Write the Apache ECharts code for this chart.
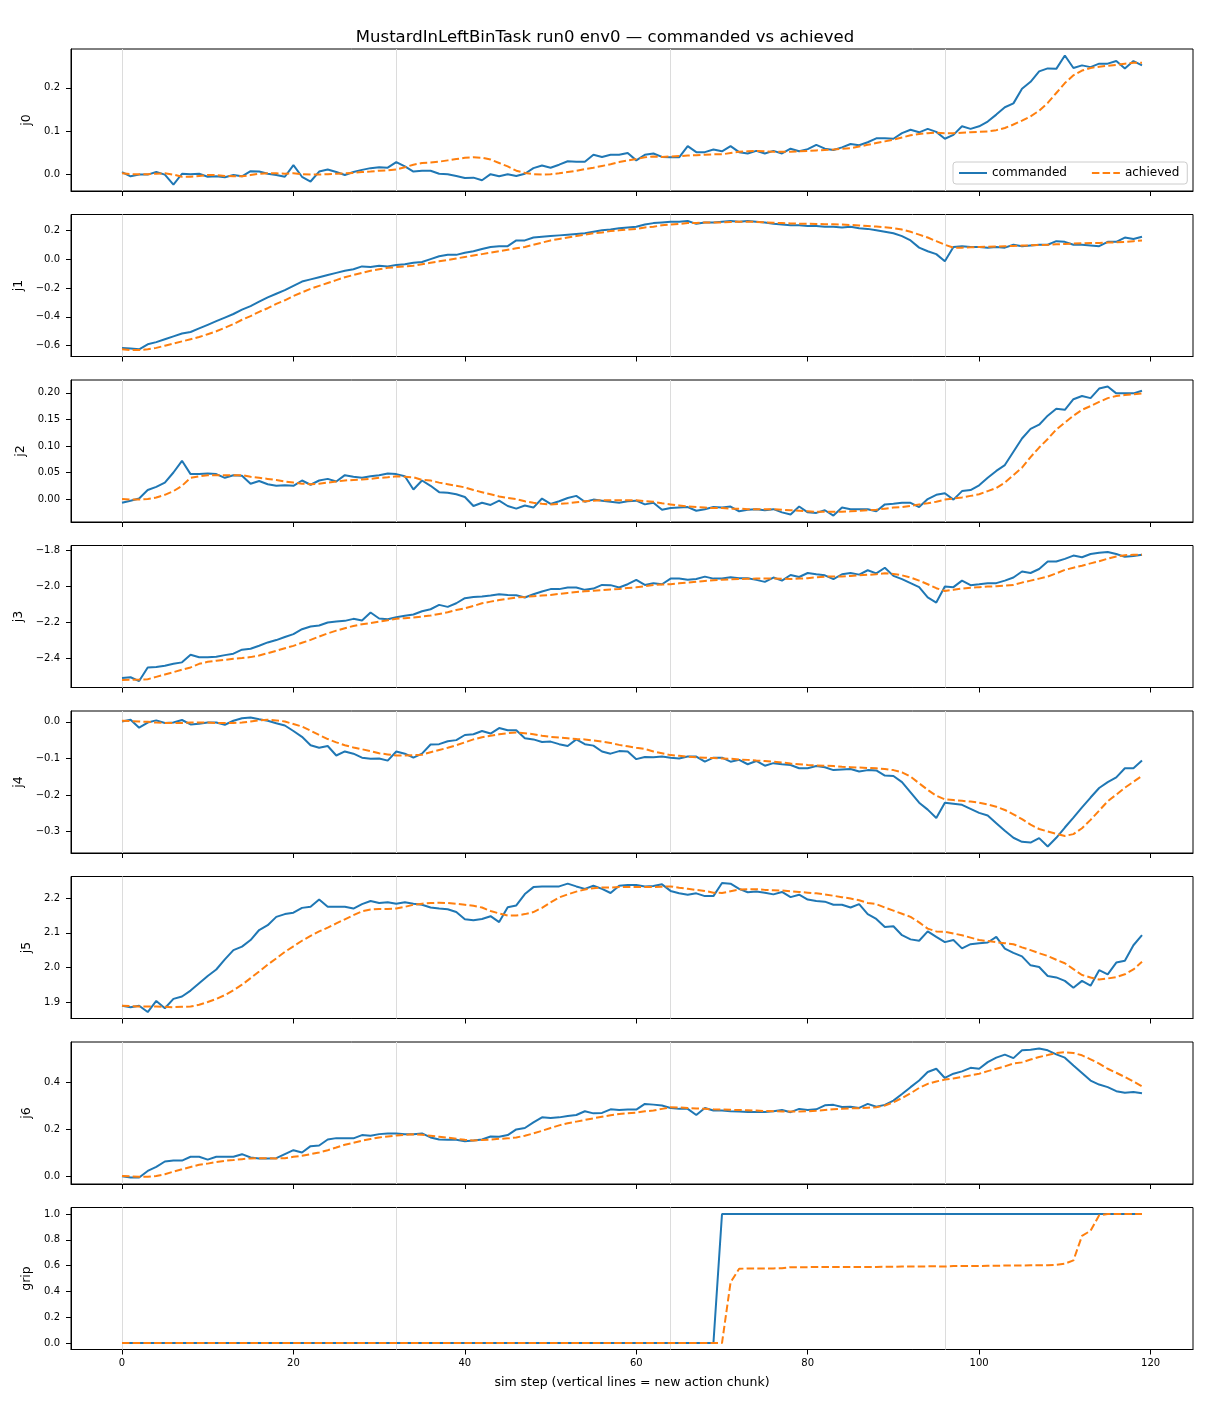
<!DOCTYPE html>
<html>
<head>
<meta charset="utf-8">
<script src="https://cdn.jsdelivr.net/npm/echarts@6/dist/echarts.min.js"></script>
<style>html,body{margin:0;padding:0;background:#fff}#c{width:1210px;height:1408px}</style>
</head>
<body>
<div id="c"></div>
<script>
const steps = [0,1,2,3,4,5,6,7,8,9,10,11,12,13,14,15,16,17,18,19,20,21,22,23,24,25,26,27,28,29,30,31,32,33,34,35,36,37,38,39,40,41,42,43,44,45,46,47,48,49,50,51,52,53,54,55,56,57,58,59,60,61,62,63,64,65,66,67,68,69,70,71,72,73,74,75,76,77,78,79,80,81,82,83,84,85,86,87,88,89,90,91,92,93,94,95,96,97,98,99,100,101,102,103,104,105,106,107,108,109,110,111,112,113,114,115,116,117,118,119];
const chunkStarts = [0, 32, 64, 96];
const xTicks = [0, 20, 40, 60, 80, 100, 120];

const j0Cmd = [0.005,-0.005,-0.001,-0.001,0.005,-0.001,-0.024,0.001,0.0,0.001,
-0.006,-0.005,-0.007,-0.002,-0.005,0.007,0.006,0.001,-0.002,-0.006,
0.021,-0.006,-0.017,0.006,0.011,0.005,-0.002,0.005,0.01,0.014,
0.016,0.015,0.028,0.018,0.006,0.008,0.008,0.001,0.0,-0.004,
-0.009,-0.008,-0.014,0.0,-0.005,0.0,-0.004,0.001,0.014,0.02,
0.015,0.022,0.03,0.029,0.029,0.045,0.04,0.045,0.045,0.049,
0.032,0.045,0.048,0.04,0.039,0.039,0.065,0.051,0.051,0.057,
0.053,0.065,0.051,0.048,0.054,0.048,0.054,0.048,0.059,0.053,
0.058,0.068,0.059,0.056,0.062,0.07,0.067,0.074,0.083,0.083,
0.082,0.095,0.103,0.097,0.105,0.098,0.082,0.091,0.111,0.105,
0.111,0.122,0.138,0.155,0.164,0.198,0.214,0.238,0.245,0.244,
0.275,0.246,0.252,0.248,0.256,0.256,0.262,0.245,0.262,0.252];
const j0Ach = [0.002,0.0,0.0,0.0,0.001,0.002,-0.001,-0.006,-0.006,-0.004,
-0.002,-0.002,-0.004,-0.005,-0.005,-0.002,0.001,0.002,0.002,0.001,
0.002,0.0,-0.001,-0.001,0.0,0.001,0.002,0.003,0.005,0.006,
0.008,0.009,0.011,0.016,0.022,0.026,0.027,0.029,0.032,0.035,
0.038,0.039,0.038,0.034,0.026,0.018,0.008,0.003,0.0,-0.001,
0.0,0.002,0.005,0.008,0.012,0.015,0.019,0.023,0.028,0.032,
0.035,0.039,0.041,0.04,0.041,0.042,0.043,0.044,0.045,0.046,
0.046,0.049,0.052,0.053,0.054,0.053,0.052,0.052,0.052,0.053,
0.054,0.055,0.056,0.057,0.059,0.06,0.064,0.068,0.072,0.076,
0.08,0.085,0.09,0.093,0.095,0.096,0.095,0.095,0.096,0.097,
0.098,0.099,0.102,0.107,0.115,0.124,0.134,0.147,0.165,0.188,
0.211,0.229,0.24,0.246,0.249,0.251,0.253,0.256,0.258,0.258];

const j1Cmd = [-0.615,-0.62,-0.625,-0.59,-0.575,-0.555,-0.535,-0.515,-0.505,-0.48,
-0.455,-0.43,-0.405,-0.38,-0.35,-0.325,-0.295,-0.265,-0.24,-0.215,
-0.185,-0.155,-0.14,-0.125,-0.11,-0.095,-0.08,-0.07,-0.05,-0.055,
-0.045,-0.05,-0.04,-0.035,-0.025,-0.02,0.0,0.02,0.03,0.03,
0.045,0.055,0.07,0.085,0.09,0.09,0.13,0.13,0.15,0.155,
0.16,0.165,0.17,0.175,0.18,0.19,0.2,0.205,0.215,0.22,
0.225,0.24,0.25,0.255,0.26,0.26,0.265,0.245,0.255,0.255,
0.26,0.265,0.26,0.265,0.26,0.255,0.245,0.24,0.235,0.235,
0.23,0.23,0.225,0.225,0.22,0.225,0.215,0.21,0.2,0.19,
0.18,0.16,0.13,0.08,0.055,0.035,-0.015,0.085,0.09,0.085,
0.085,0.08,0.085,0.08,0.1,0.09,0.095,0.1,0.1,0.125,
0.12,0.1,0.1,0.095,0.09,0.12,0.12,0.15,0.14,0.155];
const j1Ach = [-0.625,-0.63,-0.63,-0.625,-0.615,-0.6,-0.585,-0.57,-0.555,-0.54,
-0.52,-0.5,-0.475,-0.45,-0.42,-0.395,-0.365,-0.34,-0.31,-0.285,
-0.255,-0.23,-0.205,-0.185,-0.165,-0.145,-0.125,-0.11,-0.095,-0.08,
-0.07,-0.06,-0.055,-0.05,-0.045,-0.035,-0.025,-0.015,-0.005,0.005,
0.015,0.025,0.035,0.045,0.055,0.065,0.075,0.085,0.1,0.115,
0.13,0.14,0.15,0.16,0.17,0.18,0.185,0.195,0.2,0.205,
0.21,0.22,0.225,0.235,0.24,0.245,0.25,0.25,0.255,0.255,
0.255,0.258,0.26,0.26,0.258,0.255,0.252,0.25,0.248,0.246,
0.245,0.244,0.243,0.242,0.24,0.237,0.234,0.23,0.226,0.222,
0.215,0.205,0.19,0.17,0.15,0.125,0.1,0.08,0.08,0.082,
0.085,0.086,0.088,0.09,0.092,0.094,0.096,0.098,0.1,0.103,
0.106,0.108,0.11,0.112,0.113,0.115,0.117,0.12,0.125,0.13];

const j2Cmd = [-0.007,-0.003,0.001,0.017,0.023,0.031,0.05,0.072,0.047,0.047,
0.048,0.047,0.04,0.045,0.044,0.029,0.034,0.028,0.025,0.026,
0.025,0.035,0.027,0.035,0.038,0.033,0.045,0.042,0.04,0.043,
0.045,0.048,0.047,0.043,0.018,0.035,0.025,0.013,0.012,0.009,
0.004,-0.013,-0.007,-0.011,-0.003,-0.013,-0.018,-0.012,-0.016,0.001,
-0.009,-0.004,0.002,0.006,-0.005,-0.001,-0.003,-0.005,-0.007,-0.004,
-0.003,-0.01,-0.007,-0.02,-0.017,-0.016,-0.015,-0.022,-0.019,-0.015,
-0.016,-0.014,-0.023,-0.02,-0.019,-0.021,-0.019,-0.025,-0.029,-0.014,
-0.025,-0.026,-0.021,-0.031,-0.016,-0.019,-0.019,-0.019,-0.023,-0.01,
-0.009,-0.007,-0.007,-0.015,0.0,0.008,0.011,-0.001,0.015,0.017,
0.026,0.04,0.053,0.064,0.089,0.114,0.132,0.14,0.157,0.17,
0.168,0.188,0.194,0.19,0.208,0.212,0.199,0.199,0.199,0.204];
const j2Ach = [0.0,-0.001,-0.001,0.0,0.003,0.008,0.015,0.025,0.04,0.043,
0.045,0.045,0.045,0.045,0.045,0.042,0.04,0.038,0.036,0.033,
0.031,0.029,0.028,0.029,0.031,0.033,0.035,0.036,0.037,0.038,
0.04,0.041,0.043,0.042,0.041,0.036,0.035,0.031,0.028,0.025,
0.022,0.017,0.013,0.009,0.005,0.002,0.0,-0.004,-0.007,-0.009,
-0.01,-0.009,-0.008,-0.006,-0.004,-0.003,-0.002,-0.002,-0.002,-0.002,
-0.002,-0.004,-0.005,-0.008,-0.01,-0.012,-0.014,-0.015,-0.016,-0.017,
-0.017,-0.018,-0.018,-0.019,-0.019,-0.019,-0.019,-0.02,-0.021,-0.022,
-0.023,-0.024,-0.024,-0.024,-0.024,-0.023,-0.022,-0.021,-0.02,-0.018,
-0.016,-0.015,-0.013,-0.01,-0.008,-0.005,-0.001,0.001,0.003,0.006,
0.009,0.015,0.021,0.031,0.045,0.059,0.079,0.097,0.113,0.131,
0.144,0.157,0.168,0.175,0.183,0.19,0.194,0.196,0.197,0.199];

const j3Cmd = [-2.506,-2.502,-2.523,-2.448,-2.446,-2.439,-2.428,-2.42,-2.378,-2.392,
-2.392,-2.389,-2.38,-2.372,-2.35,-2.345,-2.328,-2.31,-2.297,-2.28,
-2.264,-2.237,-2.222,-2.217,-2.2,-2.195,-2.191,-2.18,-2.189,-2.145,
-2.178,-2.182,-2.171,-2.163,-2.156,-2.138,-2.127,-2.103,-2.114,-2.094,
-2.066,-2.06,-2.057,-2.051,-2.044,-2.048,-2.05,-2.062,-2.044,-2.029,
-2.016,-2.016,-2.007,-2.007,-2.02,-2.013,-1.993,-1.994,-2.007,-1.989,
-1.965,-1.993,-1.983,-1.989,-1.958,-1.958,-1.964,-1.96,-1.947,-1.958,
-1.958,-1.951,-1.956,-1.956,-1.965,-1.976,-1.952,-1.969,-1.938,-1.949,
-1.927,-1.934,-1.94,-1.961,-1.934,-1.927,-1.936,-1.912,-1.929,-1.898,
-1.943,-1.961,-1.983,-2.005,-2.062,-2.09,-2.002,-2.005,-1.969,-1.994,
-1.989,-1.983,-1.983,-1.969,-1.952,-1.919,-1.927,-1.905,-1.864,-1.864,
-1.849,-1.831,-1.84,-1.822,-1.815,-1.811,-1.822,-1.838,-1.833,-1.826];
const j3Ach = [-2.517,-2.516,-2.515,-2.513,-2.5,-2.487,-2.474,-2.46,-2.448,-2.428,
-2.417,-2.411,-2.406,-2.4,-2.396,-2.391,-2.382,-2.369,-2.356,-2.342,
-2.329,-2.312,-2.296,-2.278,-2.26,-2.245,-2.232,-2.219,-2.21,-2.203,
-2.195,-2.188,-2.18,-2.176,-2.173,-2.167,-2.162,-2.153,-2.144,-2.131,
-2.122,-2.109,-2.094,-2.085,-2.076,-2.069,-2.062,-2.059,-2.055,-2.051,
-2.048,-2.042,-2.037,-2.032,-2.028,-2.025,-2.022,-2.018,-2.015,-2.01,
-2.006,-2.0,-1.993,-1.991,-1.989,-1.984,-1.98,-1.975,-1.971,-1.967,
-1.964,-1.962,-1.96,-1.959,-1.958,-1.958,-1.958,-1.959,-1.96,-1.958,
-1.956,-1.951,-1.947,-1.947,-1.947,-1.943,-1.94,-1.937,-1.934,-1.929,
-1.932,-1.94,-1.952,-1.969,-1.989,-2.011,-2.026,-2.02,-2.013,-2.009,
-2.005,-2.002,-2.0,-1.997,-1.993,-1.98,-1.969,-1.958,-1.947,-1.929,
-1.91,-1.898,-1.887,-1.874,-1.862,-1.848,-1.836,-1.829,-1.827,-1.827];

const j4Cmd = [0.001,0.006,-0.016,-0.002,0.004,-0.003,-0.002,0.005,-0.007,-0.005,
-0.002,-0.002,-0.008,0.003,0.01,0.012,0.007,0.003,-0.004,-0.01,
-0.025,-0.041,-0.064,-0.071,-0.066,-0.092,-0.081,-0.087,-0.098,-0.101,
-0.1,-0.106,-0.081,-0.087,-0.098,-0.087,-0.062,-0.061,-0.053,-0.05,
-0.036,-0.034,-0.025,-0.032,-0.017,-0.023,-0.023,-0.045,-0.048,-0.055,
-0.054,-0.061,-0.066,-0.048,-0.061,-0.065,-0.081,-0.087,-0.08,-0.081,
-0.102,-0.096,-0.097,-0.095,-0.098,-0.1,-0.095,-0.095,-0.109,-0.098,
-0.098,-0.109,-0.104,-0.116,-0.107,-0.12,-0.113,-0.116,-0.118,-0.127,
-0.127,-0.121,-0.124,-0.132,-0.13,-0.129,-0.136,-0.132,-0.133,-0.147,
-0.148,-0.165,-0.193,-0.221,-0.24,-0.263,-0.221,-0.224,-0.227,-0.238,
-0.249,-0.256,-0.277,-0.298,-0.317,-0.328,-0.33,-0.318,-0.341,-0.317,
-0.289,-0.262,-0.234,-0.207,-0.181,-0.165,-0.152,-0.127,-0.127,-0.106];
const j4Ach = [0.003,0.002,0.001,0.0,-0.002,-0.003,-0.003,-0.003,-0.002,-0.002,
-0.002,-0.003,-0.003,-0.003,-0.002,0.001,0.004,0.006,0.004,0.001,
-0.006,-0.013,-0.024,-0.036,-0.047,-0.056,-0.064,-0.07,-0.075,-0.08,
-0.086,-0.089,-0.092,-0.092,-0.091,-0.09,-0.083,-0.077,-0.071,-0.064,
-0.056,-0.048,-0.042,-0.038,-0.034,-0.031,-0.029,-0.031,-0.034,-0.038,
-0.041,-0.043,-0.045,-0.047,-0.048,-0.051,-0.054,-0.058,-0.063,-0.067,
-0.071,-0.074,-0.081,-0.086,-0.091,-0.093,-0.095,-0.097,-0.098,-0.099,
-0.1,-0.101,-0.103,-0.104,-0.106,-0.107,-0.109,-0.111,-0.114,-0.116,
-0.118,-0.119,-0.12,-0.121,-0.123,-0.124,-0.125,-0.126,-0.127,-0.129,
-0.132,-0.138,-0.15,-0.168,-0.186,-0.202,-0.212,-0.214,-0.216,-0.218,
-0.221,-0.226,-0.232,-0.241,-0.253,-0.266,-0.281,-0.293,-0.3,-0.306,
-0.312,-0.307,-0.291,-0.268,-0.243,-0.217,-0.199,-0.18,-0.164,-0.148];

const j5Cmd = [1.889,1.885,1.889,1.871,1.903,1.882,1.909,1.916,1.933,1.954,
1.975,1.994,2.023,2.05,2.06,2.079,2.108,2.122,2.146,2.154,
2.158,2.172,2.175,2.196,2.175,2.175,2.175,2.17,2.183,2.192,
2.186,2.188,2.184,2.188,2.184,2.181,2.173,2.17,2.168,2.16,
2.139,2.136,2.14,2.148,2.131,2.174,2.179,2.212,2.232,2.234,
2.234,2.234,2.242,2.234,2.227,2.236,2.227,2.215,2.236,2.238,
2.238,2.234,2.235,2.24,2.221,2.214,2.21,2.214,2.206,2.206,
2.244,2.242,2.227,2.217,2.219,2.216,2.211,2.218,2.203,2.21,
2.196,2.192,2.19,2.181,2.181,2.173,2.183,2.154,2.14,2.117,
2.119,2.093,2.081,2.077,2.104,2.088,2.073,2.079,2.055,2.067,
2.07,2.072,2.088,2.054,2.042,2.032,2.006,2.001,1.975,1.971,
1.961,1.941,1.961,1.947,1.992,1.98,2.014,2.019,2.064,2.093];
const j5Ach = [1.889,1.888,1.887,1.887,1.887,1.886,1.885,1.886,1.887,1.892,
1.9,1.909,1.92,1.934,1.95,1.969,1.988,2.008,2.026,2.045,
2.061,2.077,2.091,2.104,2.115,2.127,2.139,2.151,2.162,2.167,
2.169,2.169,2.17,2.175,2.181,2.184,2.186,2.187,2.186,2.184,
2.181,2.178,2.173,2.163,2.156,2.15,2.15,2.154,2.16,2.172,
2.188,2.202,2.211,2.219,2.225,2.229,2.231,2.231,2.232,2.232,
2.232,2.232,2.232,2.233,2.234,2.23,2.227,2.224,2.221,2.216,
2.215,2.22,2.225,2.226,2.226,2.224,2.223,2.222,2.22,2.218,
2.216,2.214,2.211,2.207,2.203,2.199,2.194,2.186,2.183,2.173,
2.164,2.155,2.146,2.13,2.112,2.104,2.103,2.098,2.093,2.086,
2.079,2.076,2.073,2.07,2.067,2.058,2.05,2.041,2.033,2.022,
2.012,1.995,1.978,1.971,1.965,1.968,1.972,1.98,1.994,2.016];

const j6Cmd = [0.001,-0.004,-0.004,0.024,0.041,0.064,0.068,0.068,0.084,0.084,
0.072,0.084,0.084,0.084,0.095,0.081,0.077,0.077,0.078,0.095,
0.112,0.102,0.129,0.132,0.157,0.163,0.163,0.162,0.176,0.173,
0.18,0.183,0.183,0.179,0.179,0.183,0.166,0.157,0.156,0.156,
0.15,0.153,0.157,0.17,0.169,0.176,0.2,0.206,0.23,0.251,
0.248,0.251,0.257,0.261,0.277,0.268,0.27,0.285,0.282,0.284,
0.284,0.308,0.305,0.301,0.291,0.287,0.287,0.261,0.291,0.28,
0.28,0.277,0.276,0.274,0.274,0.274,0.277,0.282,0.273,0.287,
0.282,0.285,0.302,0.304,0.295,0.296,0.291,0.308,0.296,0.304,
0.322,0.35,0.379,0.407,0.443,0.457,0.418,0.436,0.446,0.461,
0.457,0.485,0.504,0.517,0.502,0.535,0.538,0.543,0.535,0.518,
0.504,0.471,0.439,0.407,0.39,0.379,0.362,0.355,0.358,0.353];
const j6Ach = [0.003,0.001,-0.001,-0.001,0.003,0.01,0.021,0.031,0.041,0.05,
0.055,0.062,0.067,0.07,0.074,0.077,0.078,0.078,0.077,0.078,
0.084,0.088,0.095,0.102,0.112,0.123,0.135,0.143,0.152,0.159,
0.166,0.17,0.174,0.177,0.179,0.177,0.173,0.169,0.165,0.16,
0.156,0.153,0.155,0.157,0.16,0.162,0.166,0.173,0.183,0.194,
0.206,0.217,0.226,0.233,0.24,0.247,0.254,0.26,0.265,0.268,
0.271,0.277,0.28,0.287,0.294,0.293,0.291,0.289,0.287,0.285,
0.284,0.283,0.282,0.281,0.28,0.278,0.277,0.276,0.276,0.276,
0.277,0.279,0.282,0.285,0.287,0.289,0.29,0.292,0.294,0.301,
0.315,0.333,0.353,0.376,0.393,0.403,0.411,0.416,0.422,0.429,
0.436,0.447,0.457,0.467,0.479,0.484,0.496,0.507,0.515,0.524,
0.527,0.524,0.514,0.497,0.479,0.457,0.44,0.422,0.403,0.382];

const gripCmd = [0,0,0,0,0,0,0,0,0,0,
0,0,0,0,0,0,0,0,0,0,
0,0,0,0,0,0,0,0,0,0,
0,0,0,0,0,0,0,0,0,0,
0,0,0,0,0,0,0,0,0,0,
0,0,0,0,0,0,0,0,0,0,
0,0,0,0,0,0,0,0,0,0,
1,1,1,1,1,1,1,1,1,1,
1,1,1,1,1,1,1,1,1,1,
1,1,1,1,1,1,1,1,1,1,
1,1,1,1,1,1,1,1,1,1,
1,1,1,1,1,1,1,1,1,1];
const gripAch = [0,0,0,0,0,0,0,0,0,0,
0,0,0,0,0,0,0,0,0,0,
0,0,0,0,0,0,0,0,0,0,
0,0,0,0,0,0,0,0,0,0,
0,0,0,0,0,0,0,0,0,0,
0,0,0,0,0,0,0,0,0,0,
0,0,0,0,0,0,0,0,0,0,
0,0.47,0.575,0.578,0.578,0.578,0.578,0.58,0.588,0.588,
0.588,0.589,0.589,0.589,0.59,0.59,0.59,0.59,0.59,0.591,
0.591,0.592,0.592,0.593,0.594,0.594,0.593,0.596,0.596,0.596,
0.597,0.598,0.599,0.6,0.6,0.601,0.602,0.602,0.603,0.606,
0.615,0.64,0.83,0.87,0.99,1.0,1.0,1.0,1.0,1.0];

const j0Ticks = [0, 0.1, 0.2];
const j1Ticks = [-0.6, -0.4, -0.2, 0, 0.2];
const j2Ticks = [0, 0.05, 0.1, 0.15, 0.2];
const j3Ticks = [-2.4, -2.2, -2.0, -1.8];
const j4Ticks = [-0.3, -0.2, -0.1, 0];
const j5Ticks = [1.9, 2.0, 2.1, 2.2];
const j6Ticks = [0, 0.2, 0.4];
const gripTicks = [0, 0.2, 0.4, 0.6, 0.8, 1.0];

const panels = [
  {name:'j0', cmd:j0Cmd, ach:j0Ach, ticks:j0Ticks, dec:1, gap:35},
  {name:'j1', cmd:j1Cmd, ach:j1Ach, ticks:j1Ticks, dec:1, gap:44},
  {name:'j2', cmd:j2Cmd, ach:j2Ach, ticks:j2Ticks, dec:2, gap:43},
  {name:'j3', cmd:j3Cmd, ach:j3Ach, ticks:j3Ticks, dec:1, gap:44},
  {name:'j4', cmd:j4Cmd, ach:j4Ach, ticks:j4Ticks, dec:1, gap:44},
  {name:'j5', cmd:j5Cmd, ach:j5Ach, ticks:j5Ticks, dec:1, gap:35},
  {name:'j6', cmd:j6Cmd, ach:j6Ach, ticks:j6Ticks, dec:1, gap:35},
  {name:'grip', cmd:gripCmd, ach:gripAch, ticks:gripTicks, dec:1, gap:35}
];

const FONT = 'DejaVu Sans';
const BLUE = '#1f77b4', ORANGE = '#ff7f0e';
const grids = [], xAxes = [], yAxes = [], series = [];
const n = panels.length;
const last = n - 1;

panels.forEach((p, i) => {
  const top = 49 + i * 165.5;
  grids.push({left: 71, right: 17, top: top, height: 142, show: true,
    borderColor: '#000', borderWidth: 1, backgroundColor: 'transparent'});
  const xmin = steps[0], xmax = steps[steps.length - 1];
  const xr = xmax - xmin;
  xAxes.push({
    type: 'value', gridIndex: i, min: xmin - 0.05 * xr, max: xmax + 0.05 * xr,
    splitLine: {show: false},
    axisLine: {show: true, onZero: false, lineStyle: {color: '#000', width: 1}},
    axisTick: {show: true, inside: false, length: 5, lineStyle: {color: '#000', width: 1}, customValues: xTicks},
    axisLabel: {show: i === last, customValues: xTicks, margin: 9, color: '#000', fontSize: 10, fontFamily: FONT},
    name: i === last ? 'sim step (vertical lines = new action chunk)' : '',
    nameLocation: 'middle', nameGap: 27,
    nameTextStyle: {color: '#000', fontSize: 12.5, fontFamily: FONT}
  });
  const all = p.cmd.concat(p.ach);
  const dmin = Math.min(...all), dmax = Math.max(...all);
  const r = dmax - dmin;
  const fmt = v => v.toFixed(p.dec).replace('-', '\u2212');
  yAxes.push({
    type: 'value', gridIndex: i, min: dmin - 0.05 * r, max: dmax + 0.05 * r,
    splitLine: {show: false},
    axisLine: {show: true, onZero: false, lineStyle: {color: '#000', width: 1}},
    axisTick: {show: true, inside: false, length: 5, lineStyle: {color: '#000', width: 1}, customValues: p.ticks},
    axisLabel: {customValues: p.ticks, formatter: fmt, margin: 11, color: '#000', fontSize: 10, fontFamily: FONT},
    name: p.name, nameLocation: 'middle', nameRotate: 90, nameGap: p.gap,
    nameTextStyle: {color: '#000', fontSize: 12.5, fontFamily: FONT}
  });
  series.push({
    name: 'commanded', type: 'line', xAxisIndex: i, yAxisIndex: i,
    data: p.cmd.map((v, k) => [steps[k], v]),
    showSymbol: false, symbol: 'none', color: BLUE,
    lineStyle: {color: BLUE, width: 2}, z: 3,
    markLine: {silent: true, z: 1, symbol: ['none', 'none'], label: {show: false},
      lineStyle: {color: '#dcdcdc', width: 1, type: 'solid'}, emphasis: {disabled: true},
      data: chunkStarts.map(x => ({xAxis: x}))}
  });
  series.push({
    name: 'achieved', type: 'line', xAxisIndex: i, yAxisIndex: i,
    data: p.ach.map((v, k) => [steps[k], v]),
    showSymbol: false, symbol: 'none', color: ORANGE,
    lineStyle: {color: ORANGE, width: 2, type: [7.5, 3.2]}, z: 4
  });
});

const chart = echarts.init(document.getElementById('c'), null, {renderer: 'canvas'});
chart.setOption({
  animation: false,
  backgroundColor: '#fff',
  title: {text: 'MustardInLeftBinTask run0 env0 \u2014 commanded vs achieved', left: 'center', top: 24,
    textStyle: {color: '#000', fontSize: 16.5, fontWeight: 'normal', fontFamily: FONT}},
  legend: {data: ['commanded', 'achieved'], left: 953, top: 162, orient: 'horizontal',
    itemWidth: 28, itemHeight: 14, itemGap: 24, padding: [5, 8, 5, 5],
    itemStyle: {opacity: 0},
    borderColor: '#cccccc', borderWidth: 1, borderRadius: 3, backgroundColor: 'rgba(255,255,255,0.8)',
    textStyle: {color: '#000', fontSize: 12, fontFamily: FONT}},
  grid: grids, xAxis: xAxes, yAxis: yAxes, series: series
});
</script>
</body>
</html>
